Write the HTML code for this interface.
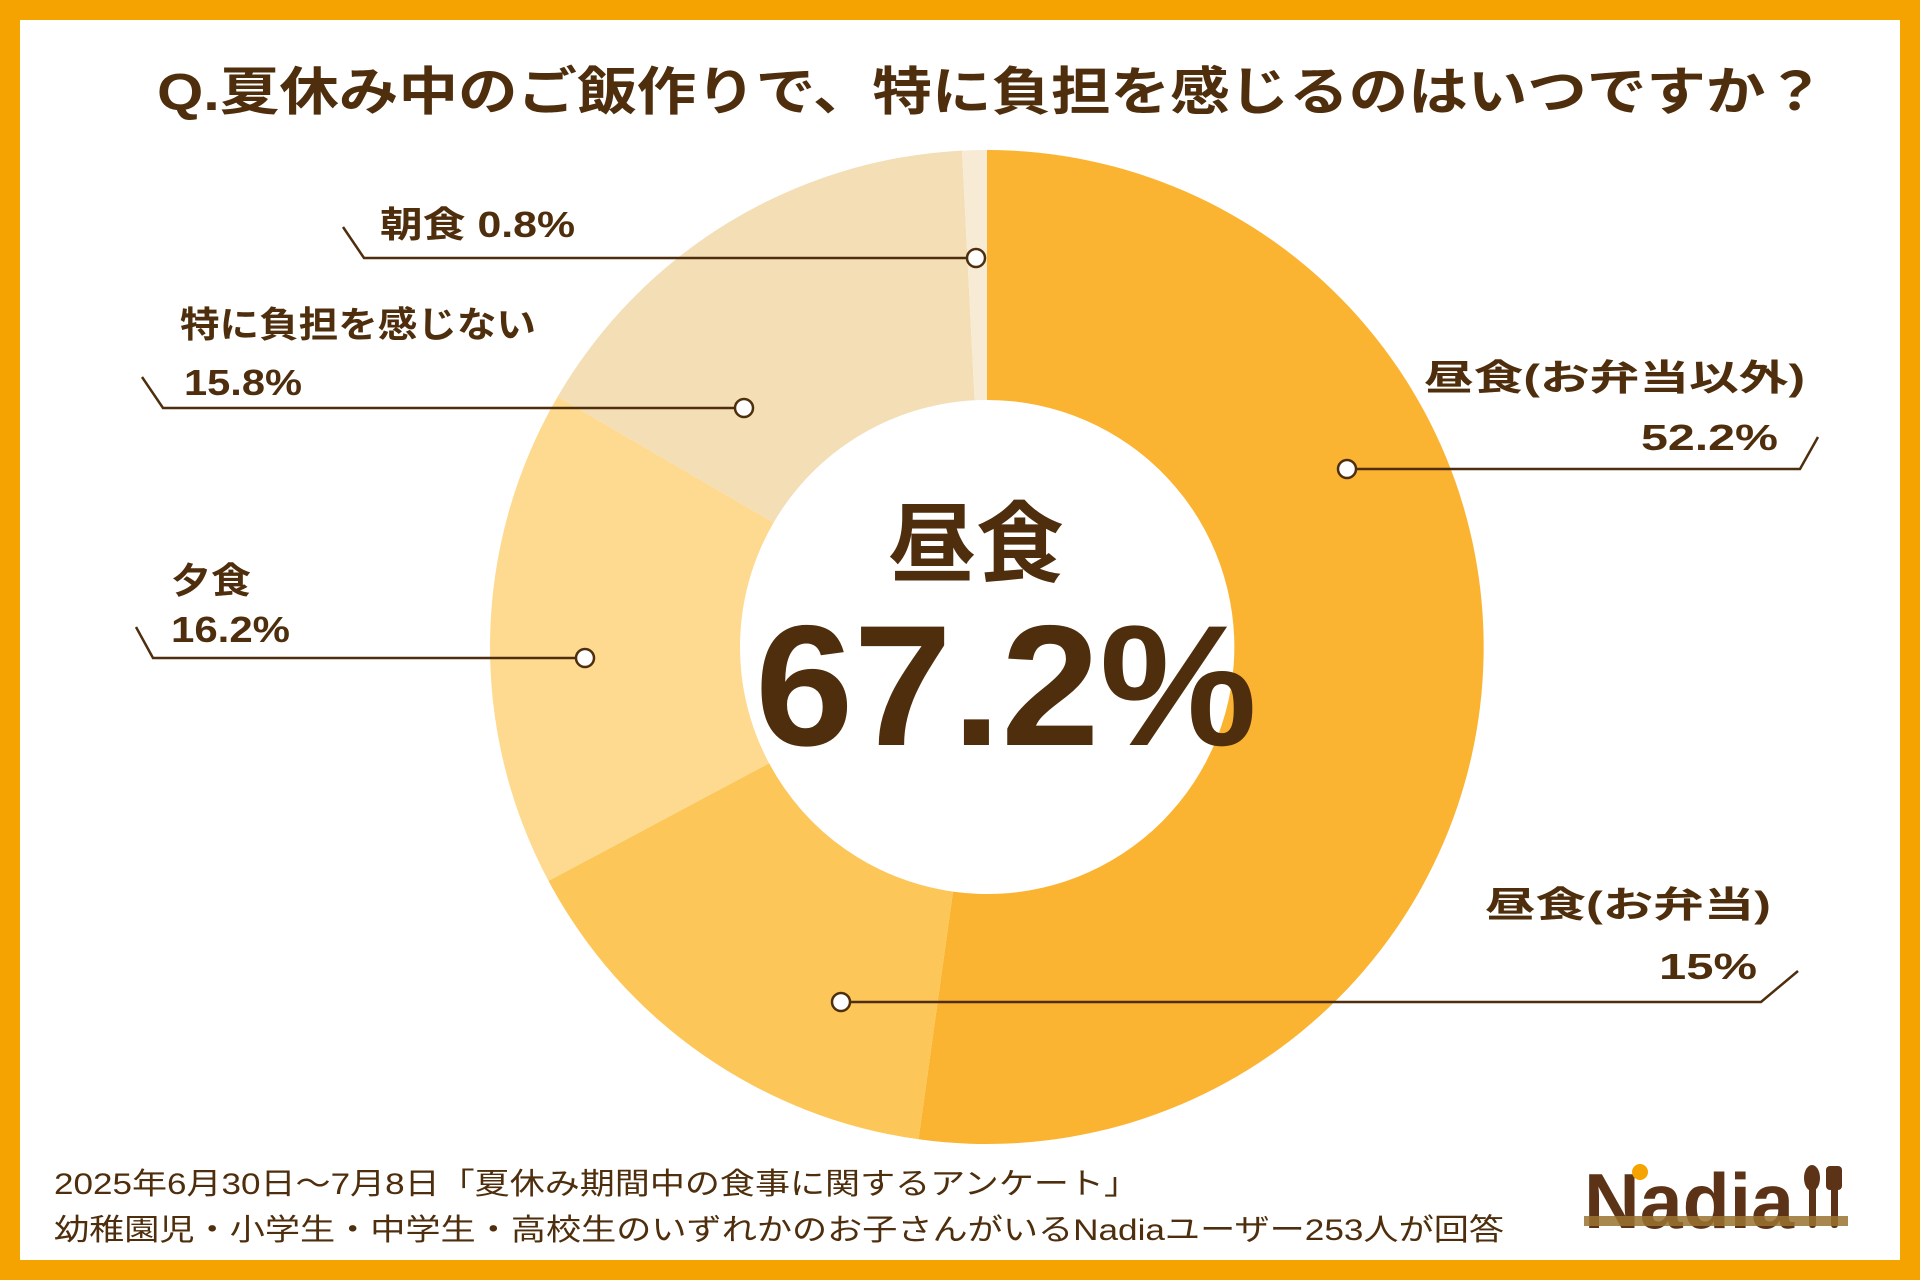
<!DOCTYPE html>
<html><head><meta charset="utf-8"><style>
html,body{margin:0;padding:0;background:#fff}
svg{display:block}
text{font-family:"Liberation Sans","Noto Sans CJK JP",sans-serif;fill:#4E2E0C}
</style></head><body>
<svg width="1920" height="1280" viewBox="0 0 1920 1280" xmlns="http://www.w3.org/2000/svg">
<rect x="0" y="0" width="1920" height="1280" fill="#F5A300"/>
<rect x="20" y="20" width="1880" height="1240" fill="#fff"/>
<text x="991" y="110" font-size="52" font-weight="bold" text-anchor="middle" textLength="1668" lengthAdjust="spacingAndGlyphs">Q.夏休み中のご飯作りで、特に負担を感じるのはいつですか？</text>
<path fill="#FBB432" d="M987,150 A497,497 0 1 1 918.5,1139.3 L953,891.6 A247,247 0 1 0 987,400 Z"/>
<path fill="#FCC659" d="M918.5,1139.3 A497,497 0 0 1 548.5,880.9 L769.1,763.3 A247,247 0 0 0 953,891.6 Z"/>
<path fill="#FDDA8F" d="M548.5,880.9 A497,497 0 0 1 557.6,396.7 L773.6,522.6 A247,247 0 0 0 769.1,763.3 Z"/>
<path fill="#F3DEB6" d="M557.6,396.7 A497,497 0 0 1 962,150.6 L974.6,400.3 A247,247 0 0 0 773.6,522.6 Z"/>
<path fill="#F7EBD5" d="M962,150.6 A497,497 0 0 1 987,150 L987,400 A247,247 0 0 0 974.6,400.3 Z"/>
<g stroke="#4E2E0C" stroke-width="2.5" fill="none">
<polyline points="343,227 364,258 976,258"/>
<polyline points="142,377 163,408 744,408"/>
<polyline points="136,627 153,658 585,658"/>
<polyline points="1347,469 1800,469 1818,437"/>
<polyline points="841,1002 1761,1002 1798,971"/>
</g>
<g stroke="#4E2E0C" stroke-width="2.5" fill="#fff">
<circle cx="976" cy="258" r="9"/><circle cx="744" cy="408" r="9"/><circle cx="585" cy="658" r="9"/><circle cx="1347" cy="469" r="9"/><circle cx="841" cy="1002" r="9"/>
</g>
<g font-size="36" font-weight="bold" lengthAdjust="spacingAndGlyphs">
<text x="380" y="237" textLength="195" lengthAdjust="spacingAndGlyphs">朝食  0.8%</text>
<text x="180" y="337" textLength="356" lengthAdjust="spacingAndGlyphs">特に負担を感じない</text>
<text x="184" y="395" textLength="118" lengthAdjust="spacingAndGlyphs">15.8%</text>
<text x="171" y="593" textLength="80" lengthAdjust="spacingAndGlyphs">夕食</text>
<text x="171" y="642" textLength="119" lengthAdjust="spacingAndGlyphs">16.2%</text>
<text x="1424" y="390" textLength="381" lengthAdjust="spacingAndGlyphs">昼食(お弁当以外)</text>
<text x="1641" y="450" textLength="137" lengthAdjust="spacingAndGlyphs">52.2%</text>
<text x="1485" y="917" textLength="286" lengthAdjust="spacingAndGlyphs">昼食(お弁当)</text>
<text x="1659" y="979" textLength="98" lengthAdjust="spacingAndGlyphs">15%</text>
</g>
<text x="976" y="575" font-size="88" font-weight="bold" text-anchor="middle">昼食</text>
<text x="1006" y="745" font-size="172" font-weight="bold" text-anchor="middle" textLength="502" lengthAdjust="spacingAndGlyphs">67.2%</text>
<text x="54" y="1194" font-size="30" textLength="1085" lengthAdjust="spacingAndGlyphs">2025年6月30日～7月8日「夏休み期間中の食事に関するアンケート」</text>
<text x="54" y="1240" font-size="30" textLength="1450" lengthAdjust="spacingAndGlyphs">幼稚園児・小学生・中学生・高校生のいずれかのお子さんがいるNadiaユーザー253人が回答</text>
<g>
<text x="1584" y="1228" font-size="78" font-weight="bold" style="fill:#5C3317" textLength="210" lengthAdjust="spacingAndGlyphs">Nadia</text>
<circle cx="1640" cy="1172" r="8" fill="#F5A300"/>
<ellipse cx="1812" cy="1178" rx="8" ry="13" fill="#5C3317"/>
<rect x="1809" y="1182" width="7" height="46" rx="3" fill="#5C3317"/>
<rect x="1826" y="1166" width="16" height="24" rx="4" fill="#5C3317"/>
<rect x="1831" y="1185" width="7" height="43" rx="3" fill="#5C3317"/>
<rect x="1584" y="1216" width="264" height="10" fill="#9A7330" opacity="0.85"/>
</g>
</svg>
</body></html>
